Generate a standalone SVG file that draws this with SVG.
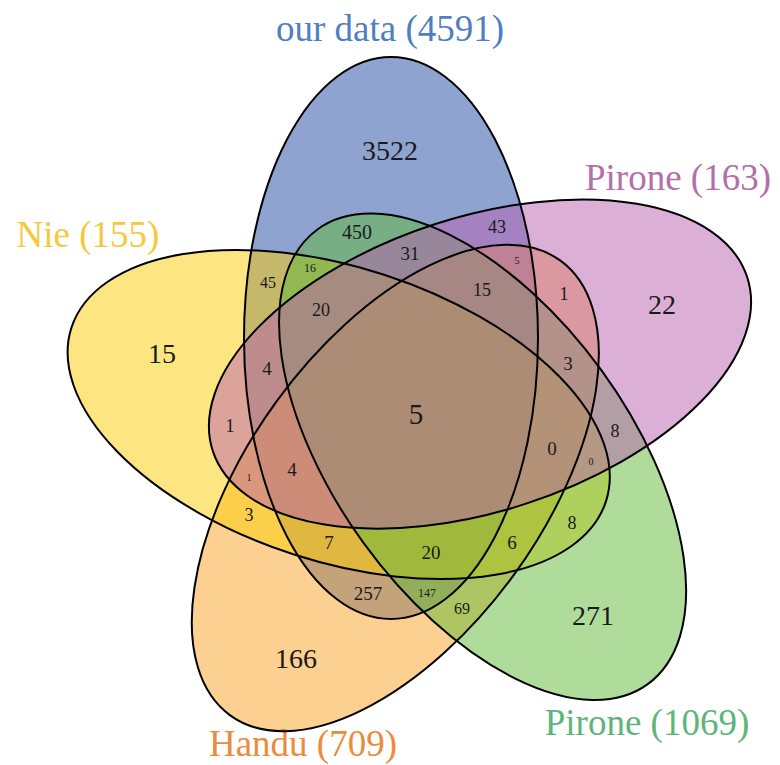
<svg xmlns="http://www.w3.org/2000/svg" xmlns:xlink="http://www.w3.org/1999/xlink" width="780" height="765" viewBox="0 0 780 765">
  <style>
    .fill { fill-opacity: 0.5; stroke: none; }
    .outline { fill: none; stroke: #000; stroke-width: 2; }
    text { font-family: "Liberation Serif", "Times New Roman", serif; text-anchor: middle; fill: #1a1a1a; }
    .title { font-size: 37px; }
    .big { font-size: 28px; }
    .mid { font-size: 19px; }
    .sm { font-size: 16px; }
    .xs { font-size: 12px; }
    .xxs { font-size: 10px; }
  </style>
  <defs>
    <ellipse id="e-blue" cx="0" cy="0" rx="147" ry="281" transform="translate(391 338)"/>
    <ellipse id="e-purple" cx="0" cy="0" rx="147" ry="281" transform="translate(480 364.1) rotate(72)"/>
    <ellipse id="e-green" cx="0" cy="0" rx="147" ry="281" transform="translate(482.6 456.8) rotate(144)"/>
    <ellipse id="e-orange" cx="0" cy="0" rx="147" ry="281" transform="translate(395.3 488) rotate(216)"/>
    <ellipse id="e-yellow" cx="0" cy="0" rx="147" ry="281" transform="translate(338.7 414.5) rotate(288)"/>
  </defs>
  <rect width="780" height="765" fill="#ffffff"/>

  <g id="set-our-data">
    <use xlink:href="#e-blue" href="#e-blue" class="fill" fill="#1f47a1"/>
    <text class="title" x="390" y="41" style="fill:#4f7fc0">our data (4591)</text>
  </g>
  <g id="set-handu">
    <use xlink:href="#e-orange" href="#e-orange" class="fill" fill="#f9a123"/>
    <text class="title" x="303" y="756" style="fill:#eb8c3c">Handu (709)</text>
  </g>
  <g id="set-nie">
    <use xlink:href="#e-yellow" href="#e-yellow" class="fill" fill="#fbcd05"/>
    <text class="title" x="88" y="247" style="fill:#f6c83c">Nie (155)</text>
  </g>
  <g id="set-pirone-1069">
    <use xlink:href="#e-green" href="#e-green" class="fill" fill="#5fb937"/>
    <text class="title" x="647" y="735" style="fill:#5db57a">Pirone (1069)</text>
  </g>
  <g id="set-pirone-163">
    <use xlink:href="#e-purple" href="#e-purple" class="fill" fill="#b95faf"/>
    <text class="title" x="678" y="190" style="fill:#b36fa8">Pirone (163)</text>
  </g>

  <g id="outlines">
    <use xlink:href="#e-blue" href="#e-blue" class="outline"/>
    <use xlink:href="#e-orange" href="#e-orange" class="outline"/>
    <use xlink:href="#e-yellow" href="#e-yellow" class="outline"/>
    <use xlink:href="#e-green" href="#e-green" class="outline"/>
    <use xlink:href="#e-purple" href="#e-purple" class="outline"/>
  </g>

  <g id="counts">
    <text class="big" x="390" y="159.5">3522</text>
    <text class="big" x="662" y="313.5">22</text>
    <text class="big" x="162" y="362.5">15</text>
    <text class="big" x="593" y="624.5">271</text>
    <text class="big" x="296" y="667.5">166</text>
    <text style="font-size:29px" x="416" y="424">5</text>

    <text style="font-size:20px" x="357" y="239">450</text>
    <text class="mid" x="410" y="259.5">31</text>
    <text style="font-size:18px" x="497" y="233">43</text>
    <text style="font-size:18px" x="482" y="296">15</text>
    <text style="font-size:18px" x="564" y="300">1</text>
    <text style="font-size:18px" x="321" y="316">20</text>
    <text class="mid" x="267" y="374.5">4</text>
    <text class="mid" x="568" y="369.5">3</text>
    <text style="font-size:18px" x="230" y="432">1</text>
    <text class="mid" x="552" y="454.5">0</text>
    <text style="font-size:18px" x="615" y="437">8</text>
    <text class="mid" x="292" y="475.5">4</text>
    <text style="font-size:18px" x="249" y="521">3</text>
    <text style="font-size:18px" x="572" y="529">8</text>
    <text class="mid" x="329" y="548.5">7</text>
    <text class="mid" x="431" y="558.5">20</text>
    <text class="mid" x="512" y="548.5">6</text>
    <text class="mid" x="368" y="599.5">257</text>
    <text class="sm" x="268" y="287.5">45</text>
    <text class="sm" x="462" y="613.5">69</text>

    <text class="xs" x="310" y="272">16</text>
    <text class="xs" x="427" y="597">147</text>
    <text class="xxs" x="517" y="263.5">5</text>
    <text class="xxs" x="591" y="464.5">0</text>
    <text class="xxs" x="249" y="480.5">1</text>
  </g>
</svg>
